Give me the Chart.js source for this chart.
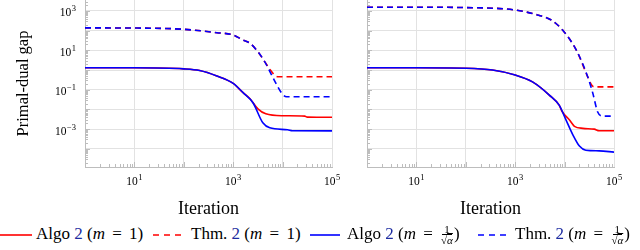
<!DOCTYPE html>
<html>
<head>
<meta charset="utf-8">
<script src="https://cdn.jsdelivr.net/npm/chart.js@4/dist/chart.umd.min.js"></script>
<style>
  body { margin: 0; background: #fff; width: 640px; height: 250px; overflow: hidden; position: relative; font-family: "Liberation Serif", "DejaVu Serif", serif; }
  canvas { position: absolute; top: 0; }
  #left { left: 0; }
  #right { left: 335px; }
  .leg-line { position: absolute; top: 234px; }
  .leg-text { position: absolute; top: 225px; font-size: 17px; line-height: 18px; white-space: nowrap; color: #000; }
  .leg-text .ref { color: #1c2ba0; }
  .leg-text i { font-style: italic; }
  .eq { margin: 0 3px; }
  .frac { display: inline-flex; flex-direction: column; align-items: center; vertical-align: middle; font-size: 11px; line-height: 10px; margin: 0 1px; position: relative; top: -1px; }
  .frac .num { border-bottom: 1px solid #000; padding: 0 2px; }
  .ov { text-decoration: overline; font-style: italic; }
</style>
</head>
<body>
<canvas id="left" width="345" height="222"></canvas>
<canvas id="right" width="305" height="222"></canvas>

<svg class="leg-line" style="left:0" width="32" height="2"><line x1="0" y1="1" x2="32" y2="1" stroke="#ff0000" stroke-width="1.6"/></svg>
<div class="leg-text" style="left:36px">Algo <span class="ref">2</span> (<i>m</i> <span class="eq">=</span> 1)</div>
<svg class="leg-line" style="left:153px" width="29" height="2"><line x1="0" y1="1" x2="29" y2="1" stroke="#ff0000" stroke-width="1.6" stroke-dasharray="6 5"/></svg>
<div class="leg-text" style="left:191px">Thm. <span class="ref">2</span> (<i>m</i> <span class="eq">=</span> 1)</div>
<svg class="leg-line" style="left:310px" width="30" height="2"><line x1="0" y1="1" x2="30" y2="1" stroke="#0000ff" stroke-width="1.6"/></svg>
<div class="leg-text" style="left:347px">Algo <span class="ref">2</span> (<i>m</i> <span class="eq">=</span> <span class="frac"><span class="num">1</span><span>√<span class="ov">α</span></span></span>)</div>
<svg class="leg-line" style="left:478px" width="29" height="2"><line x1="0" y1="1" x2="29" y2="1" stroke="#0000ff" stroke-width="1.6" stroke-dasharray="6 5"/></svg>
<div class="leg-text" style="left:515px">Thm. <span class="ref">2</span> (<i>m</i> <span class="eq">=</span> <span class="frac"><span class="num">1</span><span>√<span class="ov">α</span></span></span>)</div>

<script>
// Left panel (m = 1 vs m = 1/sqrt(alpha))
const leftAlgoAlphaX = [1, 10, 100, 209, 468, 1000, 1585, 2512, 3981, 5500, 12600, 15800, 100000];
const leftAlgoAlphaY = [1.3, 1.3, 1.15, 0.95, 0.5, 0.21, 0.071, 0.022, 0.0021, 0.00117, 0.00093, 0.00083, 0.00082];
const leftAlgoOneX = [1, 10, 100, 209, 468, 1000, 1585, 2188, 3162, 4571, 10000, 28000, 31600, 100000];
const leftAlgoOneY = [1.3, 1.3, 1.15, 0.95, 0.5, 0.21, 0.071, 0.035, 0.0107, 0.006, 0.0048, 0.0046, 0.0041, 0.0040];
const leftThmAlphaX = [1, 10, 100, 468, 1000, 1549, 2188, 3162, 4365, 6310, 9550, 12000, 100000];
const leftThmAlphaY = [138, 136, 117, 79, 60, 34, 23, 8.5, 2.6, 0.44, 0.068, 0.044, 0.044];
const leftThmOneX = [1, 10, 100, 468, 1000, 1549, 2188, 3162, 4365, 5500, 7244, 8318, 100000];
const leftThmOneY = [138, 136, 117, 79, 60, 34, 23, 8.5, 2.6, 1.1, 0.5, 0.46, 0.46];

// Right panel
const rightAlgoAlphaX = [1, 10, 100, 347, 1000, 2239, 4898, 7762, 10715, 14791, 19953, 26915, 50119, 100000];
const rightAlgoAlphaY = [1.3, 1.3, 1.23, 1.0, 0.56, 0.25, 0.054, 0.0166, 0.0029, 0.0005, 0.000138, 0.000085, 0.000079, 0.000068];
const rightAlgoOneX = [1, 10, 100, 347, 1000, 2239, 4898, 7762, 8913, 12589, 15849, 23442, 39811, 50119, 100000];
const rightAlgoOneY = [1.3, 1.3, 1.23, 1.0, 0.56, 0.25, 0.054, 0.0166, 0.0079, 0.0029, 0.0014, 0.0011, 0.001, 0.00083, 0.00083];
const rightThmAlphaX = [1, 10, 100, 1000, 2818, 5370, 9120, 17378, 29512, 37154, 46774, 58884, 100000];
const rightThmAlphaY = [1550, 1550, 1480, 1120, 630, 347, 107, 10, 0.44, 0.068, 0.0074, 0.0046, 0.0046];
const rightThmOneX = [1, 10, 100, 1000, 2818, 5370, 9120, 17378, 29512, 35481, 39811, 100000];
const rightThmOneY = [1550, 1550, 1480, 1120, 630, 347, 107, 10, 0.44, 0.17, 0.14, 0.14];

// Axes
const xDecades = [1, 10, 100, 1000, 10000, 100000];
const xLabelled = [10, 1000, 100000];
const yDecades = [1e-4, 1e-3, 1e-2, 1e-1, 1, 10, 100, 1000];
const yLabelled = [1e-3, 1e-1, 10, 1000];
const yMin = 1.2e-5;
const yMax = 3600;

const RED = '#ff0000';
const BLUE = '#0000ff';
const FONT = '"Liberation Serif", "DejaVu Serif", serif';
const BASE_FONT = '11.5px ' + FONT;
const EXP_FONT = '8.5px ' + FONT;

function exponentText(value) {
    return String(Math.round(Math.log10(value))).replace('-', '\u2212');
}

// draws "10" with a raised exponent; align is 'center' or 'right'
function drawPower(ctx, value, x, baseline, align) {
    const exp = exponentText(value);
    ctx.font = BASE_FONT;
    const w10 = ctx.measureText('10').width;
    ctx.font = EXP_FONT;
    const wExp = ctx.measureText(exp).width + 0.5;
    const left = align === 'right' ? x - w10 - wExp : x - (w10 + wExp) / 2;
    ctx.textAlign = 'left';
    ctx.textBaseline = 'alphabetic';
    ctx.fillStyle = '#000';
    ctx.font = BASE_FONT;
    ctx.fillText('10', left, baseline);
    ctx.font = EXP_FONT;
    ctx.fillText(exp, left + w10 + 0.5, baseline - 5);
}

// tick marks inside the axes and the 10^n labels, pgfplots style
const logAxisDecor = {
    id: 'logAxisDecor',
    afterDraw(chart, args, opts) {
        const {ctx, chartArea, scales} = chart;
        ctx.save();
        ctx.strokeStyle = '#bdbdbd';
        ctx.lineWidth = 1;
        ctx.beginPath();
        for (let n = 0; n < 5; n++) {
            for (let k = 1; k < 10; k++) {
                const px = Math.round(scales.x.getPixelForValue(k * Math.pow(10, n))) + 0.5;
                const len = k === 1 ? 5 : 3;
                ctx.moveTo(px, chartArea.bottom);
                ctx.lineTo(px, chartArea.bottom - len);
            }
        }
        for (let n = -5; n < 4; n++) {
            for (let k = 1; k < 10; k++) {
                const v = k * Math.pow(10, n);
                if (v < yMin || v > yMax) continue;
                const py = Math.round(scales.y.getPixelForValue(v)) + 0.5;
                const len = k === 1 ? 5 : 3;
                ctx.moveTo(chartArea.left, py);
                ctx.lineTo(chartArea.left + len, py);
            }
        }
        ctx.stroke();

        xLabelled.forEach(v => {
            drawPower(ctx, v, scales.x.getPixelForValue(v), chartArea.bottom + 18, 'center');
        });
        if (opts.yLabels) {
            yLabelled.forEach(v => {
                drawPower(ctx, v, chartArea.left - 9, scales.y.getPixelForValue(v) + 5.5, 'right');
            });
        }
        ctx.restore();
    }
};

function toPoints(xs, ys) {
    return xs.map((x, i) => ({x: x, y: ys[i]}));
}

function createPanel(id, series, opts) {
    const ctx = document.getElementById(id);
    const datasets = series.map(s => ({
        data: toPoints(s.x, s.y),
        borderColor: s.color,
        borderWidth: 1.6,
        borderDash: s.dashed ? [6, 4] : [],
        pointRadius: 0,
        fill: false,
        cubicInterpolationMode: 'monotone'
    }));

    return new Chart(ctx.getContext('2d'), {
        type: 'line',
        data: {datasets: datasets},
        plugins: [logAxisDecor],
        options: {
            responsive: false,
            animation: false,
            layout: {padding: {left: 0, top: 0, right: opts.padRight, bottom: 0}},
            plugins: {
                legend: {display: false},
                tooltip: {enabled: false},
                logAxisDecor: {yLabels: opts.yLabels}
            },
            scales: {
                x: {
                    type: 'logarithmic',
                    min: 1,
                    max: 100000,
                    afterBuildTicks: scale => { scale.ticks = xDecades.map(v => ({value: v})); },
                    afterFit: scale => { scale.height = 55; scale.paddingLeft = 0; scale.paddingRight = 0; },
                    ticks: {display: false},
                    grid: {color: '#e2e2e2', drawTicks: false},
                    border: {color: '#bdbdbd'},
                    title: {
                        display: true,
                        text: 'Iteration',
                        color: '#000',
                        font: {family: FONT, size: 18},
                        padding: {top: 0, bottom: 2}
                    }
                },
                y: {
                    type: 'logarithmic',
                    min: yMin,
                    max: yMax,
                    afterBuildTicks: scale => { scale.ticks = yDecades.map(v => ({value: v})); },
                    afterFit: scale => { scale.width = opts.yWidth; scale.paddingTop = 0; scale.paddingBottom = 0; },
                    ticks: {display: false},
                    grid: {color: '#e2e2e2', drawTicks: false},
                    border: {color: '#bdbdbd'},
                    title: {
                        display: opts.yLabels,
                        text: 'Primal-dual gap',
                        color: '#000',
                        font: {family: FONT, size: 16.5},
                        padding: {top: 14, bottom: 0}
                    }
                }
            }
        }
    });
}

document.addEventListener('DOMContentLoaded', function() {
    if (typeof Chart === 'undefined') return;
    createPanel('left', [
        {x: leftAlgoAlphaX, y: leftAlgoAlphaY, color: BLUE},
        {x: leftThmAlphaX, y: leftThmAlphaY, color: BLUE, dashed: true},
        {x: leftAlgoOneX, y: leftAlgoOneY, color: RED},
        {x: leftThmOneX, y: leftThmOneY, color: RED, dashed: true}
    ], {yWidth: 85, padRight: 13, yLabels: true});
    createPanel('right', [
        {x: rightAlgoAlphaX, y: rightAlgoAlphaY, color: BLUE},
        {x: rightThmAlphaX, y: rightThmAlphaY, color: BLUE, dashed: true},
        {x: rightAlgoOneX, y: rightAlgoOneY, color: RED},
        {x: rightThmOneX, y: rightThmOneY, color: RED, dashed: true}
    ], {yWidth: 32, padRight: 26, yLabels: false});
});
</script>
</body>
</html>
